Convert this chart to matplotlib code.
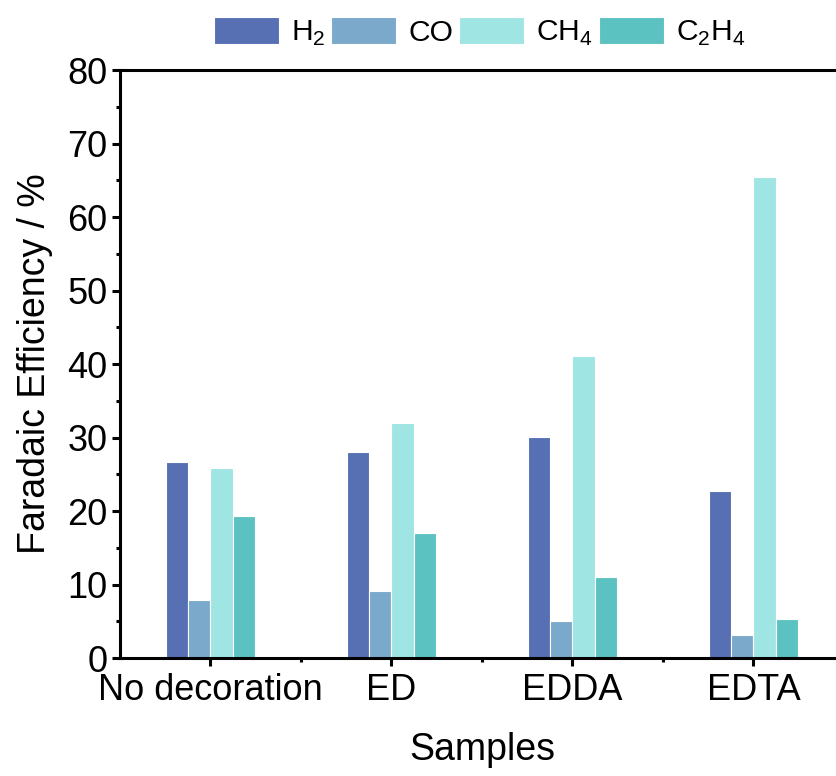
import matplotlib
matplotlib.use("Agg")
import matplotlib.pyplot as plt
import numpy as np
from matplotlib.ticker import MultipleLocator, FixedLocator

plt.rcParams['font.family'] = ['Liberation Sans', 'DejaVu Sans']
plt.rcParams['mathtext.fontset'] = 'custom'
plt.rcParams['mathtext.rm'] = 'Liberation Sans'

categories = ["No decoration", "ED", "EDDA", "EDTA"]
series_names = ["H$_2$", "CO", "CH$_4$", "C$_2$H$_4$"]
h2 = [26.7, 28.0, 30.1, 22.7]
co = [7.9, 9.1, 5.0, 3.1]
ch4 = [25.9, 32.0, 41.1, 65.4]
c2h4 = [19.3, 17.0, 11.0, 5.3]
colors = ["#5670B3", "#7AA9CB", "#9EE5E3", "#5CC2C1"]

fig = plt.figure(figsize=(8.36, 7.76), dpi=100)
ax = fig.add_axes([0.1435, 0.152, 0.866, 0.7577])

x = np.arange(len(categories))
w = 0.122
for i, (vals, name, c) in enumerate(zip([h2, co, ch4, c2h4], series_names, colors)):
    ax.bar(x + (i - 1.5) * w, vals, width=w, color=c, edgecolor="white",
           linewidth=0.8, label=name)

ax.set_xlim(-0.5, 3.5)
ax.set_ylim(0, 80)
ax.set_xticks(x)
ax.set_xticklabels(categories)
ax.xaxis.set_minor_locator(FixedLocator([0.5, 1.5, 2.5]))
ax.yaxis.set_major_locator(MultipleLocator(10))
ax.yaxis.set_minor_locator(MultipleLocator(5))

for s in ax.spines.values():
    s.set_linewidth(2.2)
ax.tick_params(which="major", direction="out", length=6, width=2.2, labelsize=26, pad=3)
ax.tick_params(which="minor", direction="out", length=3, width=2.2)
ax.tick_params(axis="x", which="major", pad=5)

ax.set_xlabel("Samples", fontsize=27, labelpad=17)
ax.set_ylabel("Faradaic Efficiency / %", fontsize=27, labelpad=10)

ax.legend(loc="center", bbox_to_anchor=(0.497, 1.064), ncol=4, frameon=False,
          fontsize=21.6, handlelength=2.17, handleheight=1.03, columnspacing=0.2,
          handletextpad=0.4, borderaxespad=0.0, borderpad=0.0)

fig.savefig("out.png", dpi=100)
